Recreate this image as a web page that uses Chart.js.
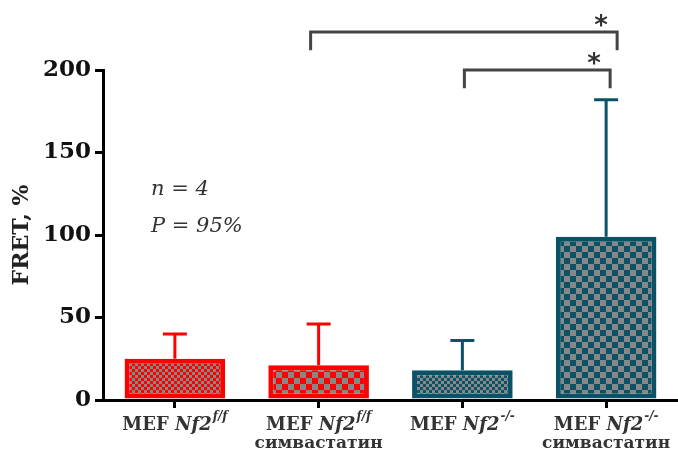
<!DOCTYPE html>
<html>
<head>
<meta charset="utf-8">
<script src="https://cdn.jsdelivr.net/npm/chart.js@4.4.1/dist/chart.umd.min.js"></script>
<style>
  html, body { margin: 0; padding: 0; background: #fff; overflow: hidden; }
  #wrap { width: 678px; height: 461px; }
</style>
</head>
<body>
<div id="wrap"><canvas id="fretChart" width="678" height="461"></canvas></div>
<script>
// data
const labelMain = ['MEF', 'MEF', 'MEF', 'MEF'];
const labelGene = ['Nf2', 'Nf2', 'Nf2', 'Nf2'];
const labelGenotype = ['f/f', 'f/f', '-/-', '-/-'];
const labelTreatment = ['', 'симвастатин', '', 'симвастатин'];
const means = [25, 21, 18, 99];
const errors = [15, 25, 18, 83];
const yTickStep = 50;
const yMax = 200;
// significance brackets: category indices and level (in FRET units)
const bracketFrom = [1, 2];
const bracketTo = [3, 3];
const bracketLevel = [223, 200];
const bracketMark = ['*', '*'];
const noteLines = ['n = 4', 'P = 95%'];

(function(){
  const el = document.getElementById('fretChart');
  const RED = '#ff0000', TEAL = '#0b5266', GREY = '#878787';
  const barColors = [RED, RED, TEAL, TEAL];
  const cellSizes = [3, 6, 3, 6];

  // checkerboard fill
  function checker(cell, color) {
    const c = document.createElement('canvas');
    c.width = c.height = cell * 2;
    const g = c.getContext('2d');
    g.fillStyle = color; g.fillRect(0, 0, cell * 2, cell * 2);
    g.fillStyle = GREY;
    g.fillRect(0, 0, cell, cell);
    g.fillRect(cell, cell, cell, cell);
    return el.getContext('2d').createPattern(c, 'repeat');
  }
  const fills = barColors.map((c, i) => checker(cellSizes[i], c));

  const extras = {
    id: 'extras',
    afterDatasetsDraw(chart) {
      const ctx = chart.ctx;
      const y = chart.scales.y, x = chart.scales.x;
      const meta = chart.getDatasetMeta(0);
      ctx.save();
      // upper error bars
      meta.data.forEach((bar, i) => {
        const top = y.getPixelForValue(means[i] + errors[i]);
        ctx.strokeStyle = barColors[i];
        ctx.lineWidth = 3;
        ctx.beginPath();
        ctx.moveTo(bar.x, bar.y);
        ctx.lineTo(bar.x, top);
        ctx.moveTo(bar.x - 12, top);
        ctx.lineTo(bar.x + 12, top);
        ctx.stroke();
      });
      // brackets
      const nudge = [[-8, 11], [2, 4]];
      bracketLevel.forEach((lv, i) => {
        const x1 = x.getPixelForValue(bracketFrom[i]) + nudge[i][0];
        const x2 = x.getPixelForValue(bracketTo[i]) + nudge[i][1];
        const yl = y.getPixelForValue(lv);
        const yd = y.getPixelForValue(lv - 11);
        ctx.strokeStyle = '#444';
        ctx.lineWidth = 3;
        ctx.beginPath();
        ctx.moveTo(x1, yd); ctx.lineTo(x1, yl); ctx.lineTo(x2, yl); ctx.lineTo(x2, yd);
        ctx.stroke();
        ctx.fillStyle = '#333';
        ctx.font = 'bold 26px "DejaVu Sans"';
        ctx.textAlign = 'center';
        ctx.textBaseline = 'alphabetic';
        ctx.fillText(bracketMark[i], x2 - 16, yl + 2);
      });
      ctx.restore();
    },
    afterDraw(chart) {
      const ctx = chart.ctx;
      const x = chart.scales.x;
      const a = chart.chartArea;
      ctx.save();
      ctx.fillStyle = '#333';
      ctx.textBaseline = 'alphabetic';
      ctx.textAlign = 'left';
      // x labels with italic gene name and superscript genotype
      const fMain = 'bold 18px "DejaVu Serif"';
      const fGene = 'italic bold 18px "DejaVu Serif"';
      const fSup = 'italic bold 12px "DejaVu Serif"';
      labelMain.forEach((m, i) => {
        const cx = x.getPixelForValue(i);
        ctx.font = fMain; const w1 = ctx.measureText(m + ' ').width;
        ctx.font = fGene; const w2 = ctx.measureText(labelGene[i]).width;
        ctx.font = fSup; const w3 = ctx.measureText(labelGenotype[i]).width;
        let sx = cx - (w1 + w2 + w3 + 1) / 2;
        const base = a.bottom + 30;
        ctx.font = fMain; ctx.fillText(m + ' ', sx, base); sx += w1;
        ctx.font = fGene; ctx.fillText(labelGene[i], sx, base); sx += w2 + 1;
        ctx.font = fSup; ctx.fillText(labelGenotype[i], sx, base - 10);
        if (labelTreatment[i]) {
          ctx.font = 'bold 17px "DejaVu Serif"';
          ctx.textAlign = 'center';
          ctx.fillText(labelTreatment[i], cx, base + 18);
          ctx.textAlign = 'left';
        }
      });
      // note
      ctx.font = 'italic 21px "DejaVu Serif"';
      ctx.fillText(noteLines[0], a.left + 48, a.top + 125);
      ctx.fillText(noteLines[1], a.left + 48, a.top + 162);
      ctx.restore();
    }
  };

  new Chart(el, {
    type: 'bar',
    data: {
      labels: labelMain.map((m, i) => m + ' ' + labelGene[i] + labelGenotype[i] + (labelTreatment[i] ? ' ' + labelTreatment[i] : '')),
      datasets: [{
        data: means,
        backgroundColor: fills,
        borderColor: barColors,
        borderWidth: 5,
        borderSkipped: false,
        categoryPercentage: 1,
        barPercentage: 0.7
      }]
    },
    options: {
      responsive: false,
      animation: false,
      devicePixelRatio: 1,
      layout: { padding: { top: 70, right: 0, left: 0, bottom: 0 } },
      plugins: { legend: { display: false }, tooltip: { enabled: false } },
      scales: {
        x: {
          afterFit(s) { s.height = 61; },
          border: { color: '#000', width: 3 },
          grid: { display: true, drawOnChartArea: false, drawTicks: true, tickLength: 8, lineWidth: 3, color: '#000', offset: false },
          ticks: { display: false }
        },
        y: {
          min: 0, max: yMax,
          afterFit(s) { s.width = 103; },
          border: { color: '#000', width: 3 },
          grid: { display: true, drawOnChartArea: false, drawTicks: true, tickLength: 8, lineWidth: 3, color: '#000' },
          ticks: { stepSize: yTickStep, color: '#111', padding: 4, font: { family: 'DejaVu Serif', weight: 'bold', size: 23 } },
          title: { display: true, text: 'FRET, %', color: '#222', padding: { top: 9, bottom: 0 }, font: { family: 'DejaVu Serif', weight: 'bold', size: 22 } }
        }
      }
    },
    plugins: [extras]
  });
})();
</script>
</body>
</html>
